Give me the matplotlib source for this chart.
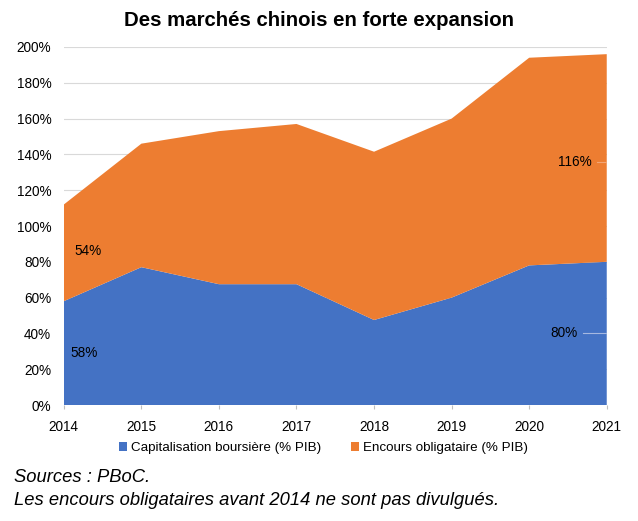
import matplotlib
matplotlib.use('Agg')
import matplotlib.pyplot as plt
from matplotlib.ticker import FuncFormatter

plt.rcParams['font.family'] = ['Liberation Sans', 'DejaVu Sans']

# ========== Données ==========
annees = [2014, 2015, 2016, 2017, 2018, 2019, 2020, 2021]
capitalisation = [58, 77, 67.5, 67.5, 47.5, 60, 78, 80]
encours = [54, 69, 85.5, 89.5, 94, 100, 116, 116]
labels_series = ['Capitalisation boursière (% PIB)', 'Encours obligataire (% PIB)']
couleurs = ['#4472C4', '#ED7D31']

# ========== Graphique ==========
fig = plt.figure(figsize=(6.38, 5.21), dpi=100)
ax = fig.add_axes([0.100, 0.2226, 0.851, 0.6872])

ax.stackplot(annees, capitalisation, encours, colors=couleurs, labels=labels_series, zorder=2)

ax.set_xlim(annees[0], annees[-1])
ax.set_ylim(0, 200)
ax.set_yticks(range(0, 201, 20))
ax.set_xticks(annees)
ax.yaxis.set_major_formatter(FuncFormatter(lambda v, p: f'{int(v)}%'))
ax.grid(True, axis='y', color='#d9d9d9', linewidth=0.8, zorder=0)
for s in ax.spines.values():
    s.set_visible(False)
ax.tick_params(axis='y', length=0, labelsize=9.8, pad=9)
ax.tick_params(axis='x', length=3, color='#bfbfbf', labelsize=9.8, pad=8)

# étiquettes de valeurs
ax.text(annees[0] + 0.08, capitalisation[0] / 2, f'{capitalisation[0]}%', fontsize=9.8, va='center', ha='left')
ax.text(annees[0] + 0.14, capitalisation[0] + encours[0] / 2 + 1, f'{encours[0]}%', fontsize=9.8, va='center', ha='left')
ax.text(annees[-1] - 0.19, capitalisation[-1] + encours[-1] / 2 - 2, f'{encours[-1]}%', fontsize=9.8, va='center', ha='right')
ax.text(annees[-1] - 0.37, capitalisation[-1] / 2, f'{capitalisation[-1]}%', fontsize=9.8, va='center', ha='right')
ax.plot([annees[-1] - 0.31, annees[-1]], [capitalisation[-1] / 2] * 2, color='#a6b8e0', linewidth=0.8, zorder=3)
ax.plot([annees[-1] - 0.13, annees[-1]], [capitalisation[-1] + encours[-1] / 2 - 2] * 2, color='#f2a676', linewidth=0.8, zorder=3)

fig.text(0.5, 0.960, 'Des marchés chinois en forte expansion', ha='center', va='center',
         fontsize=14.7, fontweight='bold')

ax.legend(loc='center', bbox_to_anchor=(0.478, -0.12), ncol=2, frameon=False,
          fontsize=9.6, handlelength=0.6, handleheight=0.6, handletextpad=0.3, columnspacing=2.2)

fig.text(0.022, 0.084, 'Sources : PBoC.', fontsize=13.2, style='italic', va='center')
fig.text(0.022, 0.040, 'Les encours obligataires avant 2014 ne sont pas divulgués.', fontsize=13.2,
         style='italic', va='center')

plt.savefig('out.png', dpi=100)
